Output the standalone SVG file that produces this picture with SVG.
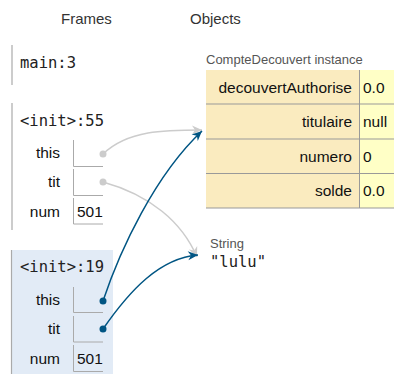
<svg xmlns="http://www.w3.org/2000/svg" width="394" height="374" viewBox="0 0 394 374">
<style>
.hd{font-family:"Liberation Sans",Arial,sans-serif;font-size:15px;fill:#333}
.fn{font-family:"DejaVu Sans Mono",monospace;font-size:15.5px;fill:#222}
.lbl{font-family:"Liberation Sans",Arial,sans-serif;font-size:15.5px;fill:#111;text-anchor:end}
.val{font-family:"Liberation Sans",Arial,sans-serif;font-size:15.5px;fill:#111}
.small{font-family:"Liberation Sans",Arial,sans-serif;font-size:13px;fill:#555}
.vbox{fill:none;stroke:#aaa;stroke-width:1}
.fline{stroke:#aaa;stroke-width:1.2}
.key{fill:#faebbf}
.vcell{fill:#ffffc6}
.sep{stroke:#999;stroke-width:1}
.gray{fill:none;stroke:#cccccc;stroke-width:1.5}
.blue{fill:none;stroke:#005583;stroke-width:1.5}
</style>
<defs>
<marker id="ag" viewBox="-1 -5 12 10" refX="10" refY="0" markerWidth="12" markerHeight="10" markerUnits="userSpaceOnUse" orient="auto">
<path d="M0,-4.5 L10,0 L0,4.5 L3,0 z" fill="#cccccc"/>
</marker>
<marker id="ab" viewBox="-1 -5 12 10" refX="10" refY="0" markerWidth="12" markerHeight="10" markerUnits="userSpaceOnUse" orient="auto">
<path d="M0,-4.5 L10,0 L0,4.5 L3,0 z" fill="#005583"/>
</marker>
</defs>

<g id="headers">
<text class="hd" x="61" y="24">Frames</text>
<text class="hd" x="190" y="24">Objects</text>
</g>

<g id="frame-main">
<line class="fline" x1="12" y1="45" x2="12" y2="85"/>
<text class="fn" x="20" y="68">main:3</text>
</g>

<g id="frame-init55">
<line class="fline" x1="12" y1="103" x2="12" y2="230"/>
<text class="fn" x="20" y="126">&lt;init&gt;:55</text>
<text class="lbl" x="60" y="158">this</text>
<path class="vbox" d="M73.5,140 V166.5 H103"/>
<text class="lbl" x="60" y="187">tit</text>
<path class="vbox" d="M73.5,169 V195.5 H103"/>
<text class="lbl" x="60" y="217">num</text>
<path class="vbox" d="M73.5,198 V224 H103"/>
<text class="val" x="77" y="217">501</text>
</g>

<g id="frame-init19">
<rect x="11" y="250" width="102" height="124" fill="#e2ebf6"/>
<line class="fline" x1="11.5" y1="250" x2="11.5" y2="374"/>
<text class="fn" x="20" y="272">&lt;init&gt;:19</text>
<text class="lbl" x="60" y="305">this</text>
<path class="vbox" d="M73.5,287 V312.5 H103"/>
<text class="lbl" x="60" y="334">tit</text>
<path class="vbox" d="M73.5,316 V342 H103"/>
<text class="lbl" x="60" y="364">num</text>
<path class="vbox" d="M73.5,345 V371.5 H103"/>
<text class="val" x="77" y="364">501</text>
</g>

<g id="obj-compte">
<text class="small" x="206" y="64">CompteDecouvert instance</text>
<rect class="key" x="206" y="70" width="153" height="138"/>
<rect class="vcell" x="359" y="70" width="35" height="138"/>
<line class="sep" x1="359.5" y1="70" x2="359.5" y2="208"/>
<line class="sep" x1="206" y1="104" x2="394" y2="104"/>
<line class="sep" x1="206" y1="139" x2="394" y2="139"/>
<line class="sep" x1="206" y1="173.5" x2="394" y2="173.5"/>
<line class="sep" x1="206" y1="208" x2="394" y2="208"/>
<text class="lbl" x="352" y="92.5">decouvertAuthorise</text>
<text class="val" x="363" y="92.5">0.0</text>
<text class="lbl" x="352" y="127">titulaire</text>
<text class="val" x="363" y="127">null</text>
<text class="lbl" x="352" y="161.5">numero</text>
<text class="val" x="363" y="161.5">0</text>
<text class="lbl" x="352" y="196">solde</text>
<text class="val" x="363" y="196">0.0</text>
</g>

<g id="obj-string">
<text class="small" x="210" y="248">String</text>
<text class="fn" x="210" y="267">"lulu"</text>
</g>

<g id="connectors">
<path class="gray" d="M103,154 C128,130 165,130 202,130" marker-end="url(#ag)"/>
<circle cx="103" cy="154" r="3.5" fill="#cccccc"/>
<path class="gray" d="M103,182 C150,195 182,222 197,257" marker-end="url(#ag)"/>
<circle cx="103" cy="182" r="3.5" fill="#cccccc"/>
<path class="blue" d="M103,301 C120,250 155,175 202,131" marker-end="url(#ab)"/>
<circle cx="103" cy="301" r="3.5" fill="#005583"/>
<path class="blue" d="M103,329 C130,290 160,258 198,255" marker-end="url(#ab)"/>
<circle cx="103" cy="329" r="3.5" fill="#005583"/>
</g>
</svg>
